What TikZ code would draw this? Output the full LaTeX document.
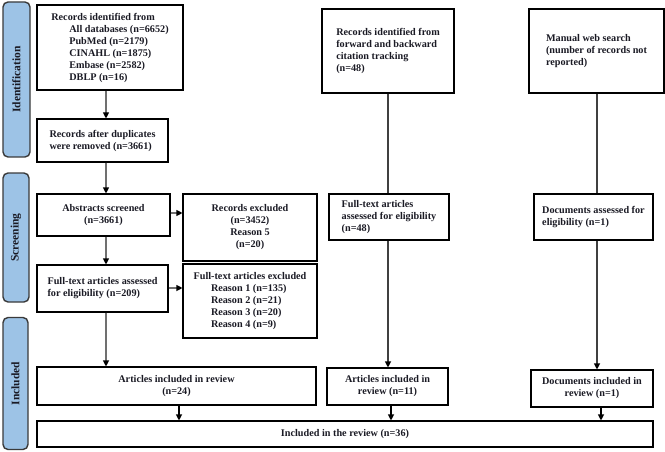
\documentclass[tikz,border=0pt]{standalone}
\usepackage{fontspec}
\setmainfont{Liberation Serif}
\usetikzlibrary{arrows.meta}
\definecolor{tabblue}{HTML}{9DC3E6}
\definecolor{tabedge}{HTML}{3A3A3A}
\definecolor{linegray}{HTML}{707070}
\definecolor{txt}{HTML}{1A1A24}
\tikzset{
  bx/.style={draw=black, line width=1.1pt, text=txt, inner sep=1pt,
    font=\fontsize{10.2}{12}\selectfont\bfseries},
  lbx/.style={bx, align=left},
  cbx/.style={bx, align=center},
  sz/.style n args={2}{minimum width=#1pt, minimum height=#2pt},
  tabbox/.style={draw=tabedge, fill=tabblue, line width=1.4pt, rounded corners=5pt},
  tabtext/.style={rotate=90, text=txt, font=\fontsize{11.5}{13}\selectfont\bfseries},
  arr/.style={draw=linegray, line width=1.1pt, -{Triangle[length=6pt,width=6pt,color=black]}},
  ln/.style={draw=black!75, line width=1.1pt}
}
\begin{document}
\begin{tikzpicture}[x=1pt,y=-1pt]
\useasboundingbox (0,0) rectangle (665,452);
% side tabs
\node[tabbox, minimum width=27pt, minimum height=155pt] (tid) at (16.5,79.5) {};
\node[tabtext] (tidt) at (tid.center) {Identification};
\node[tabbox, minimum width=26pt, minimum height=129pt] (tsc) at (16,237.5) {};
\node[tabtext] (tsct) at (tsc.center) {Screening};
\node[tabbox, minimum width=25pt, minimum height=132pt] (tin) at (15.5,383.5) {};
\node[tabtext] (tint) at (tin.center) {Included};
% left column
\node[lbx, sz={146}{85}] (id1) at (110,47.5)
 {Records identified from\\
  \hspace*{18pt}All databases (n=6652)\\
  \hspace*{18pt}PubMed (n=2179)\\
  \hspace*{18pt}CINAHL (n=1875)\\
  \hspace*{18pt}Embase (n=2582)\\
  \hspace*{18pt}DBLP (n=16)\hspace*{0pt}};
\node[lbx, sz={131}{43}] (dup) at (102.5,140.5)
 {Records after duplicates\\were removed (n=3661)};
\node[cbx, sz={133}{42}] (abs) at (103.5,215)
 {Abstracts screened\\(n=3661)};
\node[cbx, sz={134}{67}] (recex) at (250,227.5)
 {Records excluded\\(n=3452)\\Reason 5\\(n=20)};
\node[lbx, sz={131}{47}] (fta) at (102.5,288.5)
 {Full-text articles assessed\\for eligibility (n=209)};
\node[cbx, sz={134}{74}] (ftex) at (250,301)
 {Full-text articles excluded\\
  \makebox[78pt][l]{Reason 1 (n=135)}\\
  \makebox[78pt][l]{Reason 2 (n=21)}\\
  \makebox[78pt][l]{Reason 3 (n=20)}\\
  \makebox[78pt][l]{Reason 4 (n=9)}};
% middle column
\node[lbx, sz={132}{84}] (cit) at (388,51)
 {Records identified from\\forward and backward\\citation tracking\\(n=48)};
\node[lbx, sz={120}{46}] (ft48) at (389,217)
 {Full-text articles\\assessed for eligibility\\(n=48)};
% right column
\node[lbx, sz={135}{84}] (man) at (596.5,51)
 {Manual web search\\(number of records not\\reported)};
\node[lbx, sz={119}{46}] (docas) at (593.5,217)
 {Documents assessed for\\eligibility (n=1)};
% included row
\node[cbx, sz={279}{38}] (inc24) at (176.5,386)
 {Articles included in review\\(n=24)};
\node[cbx, sz={121}{37}] (inc11) at (387.5,386.5)
 {Articles included in\\review (n=11)};
\node[cbx, sz={122}{37}] (docinc) at (592,388.5)
 {Documents included in\\review (n=1)};
\node[cbx, sz={616}{26}] (final) at (345,434)
 {Included in the review (n=36)};
% connectors
\draw[arr] (id1.south -| 106,0) -- (dup.north -| 106,0);
\draw[arr] (dup.south -| 106,0) -- (abs.north -| 106,0);
\draw[arr] (abs.east |- 0,213) -- (recex.west |- 0,213);
\draw[arr] (abs.south -| 106,0) -- (fta.north -| 106,0);
\draw[arr] (fta.east |- 0,288) -- (ftex.west |- 0,288);
\draw[arr] (fta.south -| 106,0) -- (inc24.north -| 106,0);
\draw[ln] (cit.south -| 388,0) -- (ft48.north -| 388,0);
\draw[ln] (man.south -| 597,0) -- (docas.north -| 597,0);
\draw[arr, draw=black!75] (ft48.south -| 388,0) -- (inc11.north -| 388,0);
\draw[arr, draw=black!75] (docas.south -| 597,0) -- (docinc.north -| 597,0);
\draw[arr, draw=black] (inc24.south -| 179,0) -- (final.north -| 179,0);
\draw[arr, draw=black] (inc11.south -| 391,0) -- (final.north -| 391,0);
\draw[arr, draw=black] (docinc.south -| 601,0) -- (final.north -| 601,0);
\end{tikzpicture}
\end{document}
